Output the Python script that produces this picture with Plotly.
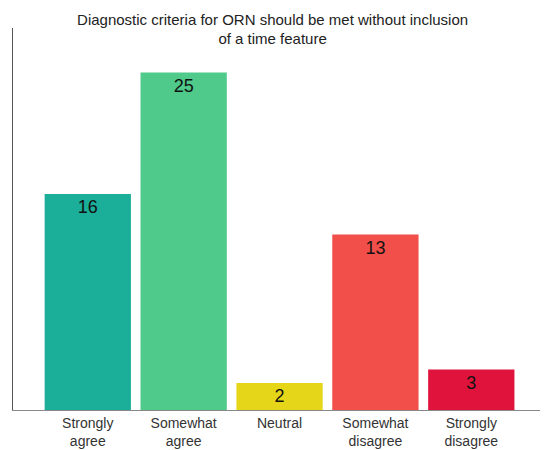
import plotly.graph_objects as go

categories = ["Strongly<br>agree", "Somewhat<br>agree", "Neutral", "Somewhat<br>disagree", "Strongly<br>disagree"]
values = [16, 25, 2, 13, 3]
colors = ["#1bae99", "#4fca8b", "#e6d619", "#f24f4a", "#e0133c"]

W, H = 540, 442  # page adds an 8px body margin

fig = go.Figure(go.Bar(
    x=categories, y=values,
    marker=dict(color=colors, line=dict(width=0)),
    text=[str(v) for v in values],
    textposition="inside", insidetextanchor="end",
    textfont=dict(color="#111111", size=18, family="Liberation Sans, Arial"),
    width=0.9,
))

fig.update_layout(
    width=W, height=H,
    margin=dict(l=5, r=0, t=20, b=40, autoexpand=False),
    paper_bgcolor="white", plot_bgcolor="white",
    title=dict(text="Diagnostic criteria for ORN should be met without inclusion<br>of a time feature",
               x=0.49, xanchor="center", y=1 - 16.5 / H, yanchor="middle", yref="container",
               automargin=False,
               font=dict(size=15, color="#222222", family="Liberation Sans, Arial")),
    font=dict(family="Liberation Sans, Arial", size=14, color="#333333"),
    showlegend=False,
    xaxis=dict(range=[-0.78, 4.8], showline=True, linecolor="#888888", linewidth=1,
               automargin=False, ticklabelstandoff=0,
               ticks="", showgrid=False, tickfont=dict(size=14, color="#333333")),
    yaxis=dict(range=[0, 28.3], showline=True, linecolor="#555555", linewidth=1,
               automargin=False,
               showticklabels=False, ticks="", showgrid=False, zeroline=False),
)

fig.write_html("out.html")
